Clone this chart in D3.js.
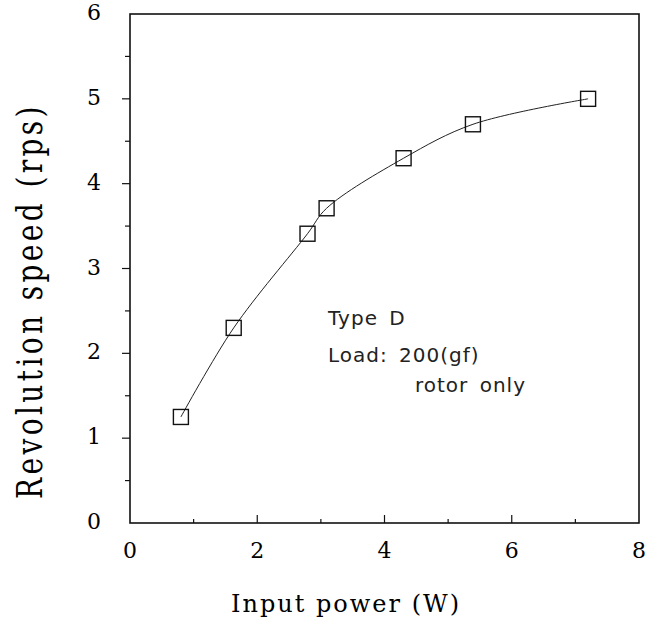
<!DOCTYPE html>
<html>
<head>
<meta charset="utf-8">
<script src="https://cdn.jsdelivr.net/npm/d3@7"></script>
<style>
  body { margin: 0; background: #fff; }
  svg { display: block; }
</style>
</head>
<body>
<svg id="chart" width="658" height="627"></svg>
<script>
// measured points (input power W, speed rps)
const powerW = [0.8, 1.63, 2.79, 3.09, 4.3, 5.39, 7.2];
const speedRps = [1.25, 2.3, 3.41, 3.71, 4.3, 4.7, 5.0];
const xTicks = [0, 2, 4, 6, 8];
const yTicks = [0, 1, 2, 3, 4, 5, 6];
const notes = ["Type D", "Load: 200(gf)", "rotor only"];

const svg = d3.select("#chart");
const plotL = 130, plotR = 639, plotT = 14, plotB = 523;

const x = d3.scaleLinear().domain([0, 8]).range([plotL, plotR]);
const y = d3.scaleLinear().domain([0, 6]).range([plotB, plotT]);

const serif = "'DejaVu Serif', 'Liberation Serif', serif";

// frame
svg.append("rect")
  .attr("x", plotL).attr("y", plotT)
  .attr("width", plotR - plotL).attr("height", plotB - plotT)
  .attr("fill", "none").attr("stroke", "#111").attr("stroke-width", 1.6);

// x ticks (inward), minor at odd values
d3.range(1, 8).forEach(v => {
  svg.append("line")
    .attr("x1", x(v)).attr("x2", x(v))
    .attr("y1", plotB).attr("y2", plotB - (v % 2 === 0 ? 8 : 4))
    .attr("stroke", "#111").attr("stroke-width", 1.2);
});

// y ticks (outward), minor at halves
d3.range(0.5, 6, 0.5).forEach(v => {
  svg.append("line")
    .attr("x1", plotL).attr("x2", plotL - (Number.isInteger(v) ? 8 : 5))
    .attr("y1", y(v)).attr("y2", y(v))
    .attr("stroke", "#111").attr("stroke-width", 1.2);
});

// tick labels
svg.selectAll(".xl").data(xTicks).enter().append("text")
  .attr("x", d => x(d)).attr("y", 558)
  .attr("text-anchor", "middle")
  .style("font-family", serif).style("font-size", "22px")
  .text(d => d);

svg.selectAll(".yl").data(yTicks).enter().append("text")
  .attr("x", 101).attr("y", d => y(d) + 6)
  .attr("text-anchor", "end")
  .style("font-family", serif).style("font-size", "22px")
  .text(d => d);

// axis titles
svg.append("text")
  .attr("x", 346).attr("y", 612)
  .attr("text-anchor", "middle")
  .style("font-family", serif).style("font-size", "24px")
  .style("letter-spacing", "2px")
  .text("Input power (W)");

svg.append("text")
  .attr("transform", "translate(42,301) rotate(-90) scale(1,1.25)")
  .attr("text-anchor", "middle")
  .style("font-family", serif).style("font-size", "28px")
  .style("letter-spacing", "3.4px")
  .text("Revolution speed (rps)");

// fitted curve
const pts = powerW.map((p, i) => [p, speedRps[i]]);
svg.append("path")
  .datum(pts)
  .attr("d", d3.line().x(d => x(d[0])).y(d => y(d[1])).curve(d3.curveCatmullRom.alpha(0.5)))
  .attr("fill", "none").attr("stroke", "#222").attr("stroke-width", 1);

// square markers
svg.selectAll(".mk").data(pts).enter().append("rect")
  .attr("x", d => x(d[0]) - 7.5).attr("y", d => y(d[1]) - 7.5)
  .attr("width", 15).attr("height", 15)
  .attr("fill", "none").attr("stroke", "#111").attr("stroke-width", 1.4);

// annotations
const noteX = [328, 328, 415];
const noteY = [325, 362, 392];
notes.forEach((t, i) => {
  svg.append("text")
    .attr("x", noteX[i]).attr("y", noteY[i])
    .style("font-family", "'DejaVu Sans', sans-serif")
    .style("font-size", "20px")
    .style("letter-spacing", "1px")
    .style("word-spacing", "4px")
    .attr("fill", "#222")
    .text(t);
});
</script>
</body>
</html>
